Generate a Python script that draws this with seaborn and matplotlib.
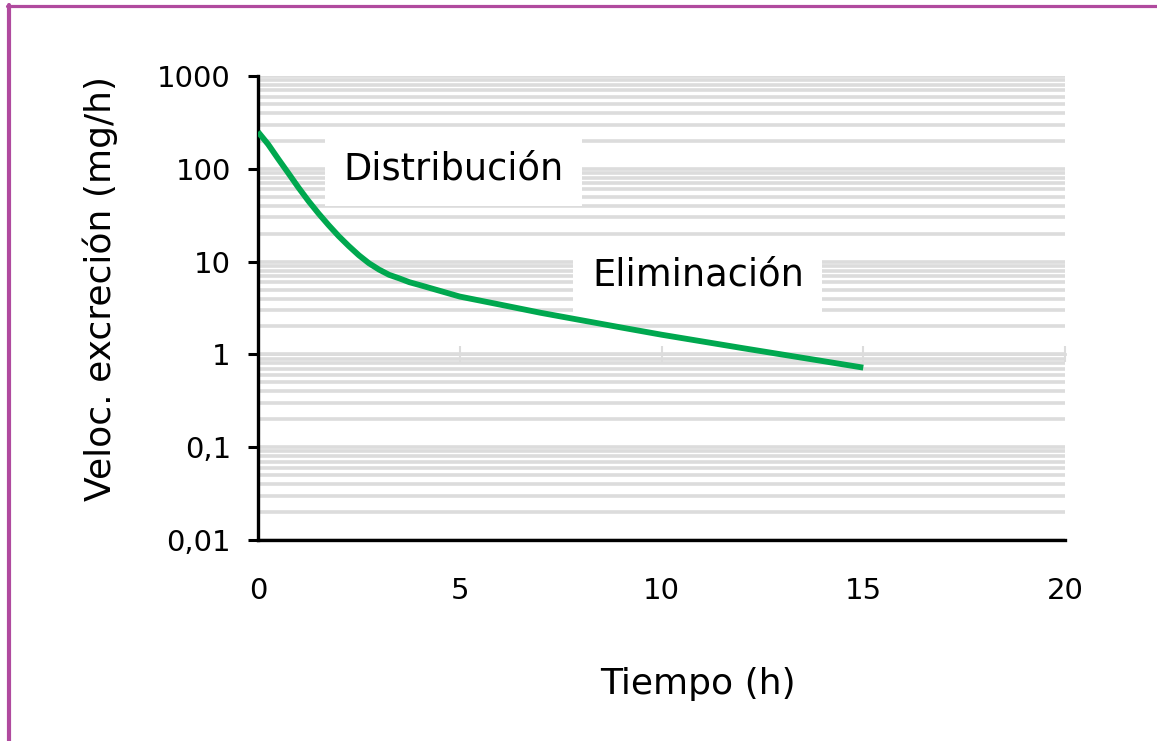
import matplotlib
matplotlib.use("Agg")
import matplotlib.pyplot as plt
from matplotlib.lines import Line2D
from matplotlib.ticker import FixedLocator, FixedFormatter, LogLocator, NullFormatter
import seaborn as sns
import pandas as pd

# ---- data ----
tiempo = [0, 0.25, 0.5, 0.75, 1, 1.25, 1.5, 1.75, 2, 2.25, 2.5, 2.75, 3, 3.25,
          3.5, 3.75, 4, 5, 6, 7, 8, 9, 10, 12, 15]
velocidad = [250, 184, 128, 90, 63, 45, 33, 24.7, 18.8, 14.7, 11.7, 9.6, 8.2, 7.2,
             6.6, 6.0, 5.6, 4.2, 3.44, 2.81, 2.34, 1.95, 1.63, 1.17, 0.72]
y_ticks = [0.01, 0.1, 1, 10, 100, 1000]
y_tick_labels = ["0,01", "0,1", "1", "10", "100", "1000"]
x_ticks = [0, 5, 10, 15, 20]
x_tick_labels = ["0", "5", "10", "15", "20"]
label_dist = "Distribución"
label_elim = "Eliminación"
x_label = "Tiempo (h)"
y_label = "Veloc. excreción (mg/h)"

df = pd.DataFrame({"t": tiempo, "v": velocidad})

sns.set_style("white")
plt.rcParams["font.family"] = ["DejaVu Sans"]
plt.rcParams["text.color"] = "black"
plt.rcParams["axes.labelcolor"] = "black"
plt.rcParams["xtick.color"] = "black"
plt.rcParams["ytick.color"] = "black"

fig = plt.figure(figsize=(11.57, 7.41), dpi=100)
ax = fig.add_axes([0.223, 0.2713, 0.6975, 0.6261])

grid_c = "#DCDCDC"
ax.set_yscale("log")
ax.set_xlim(0, 20)
ax.set_ylim(0.01, 1000)

# gridlines at major and minor log positions
ax.yaxis.set_major_locator(FixedLocator(y_ticks))
ax.yaxis.set_major_formatter(FixedFormatter(y_tick_labels))
ax.yaxis.set_minor_locator(LogLocator(base=10, subs=range(2, 10), numticks=20))
ax.yaxis.set_minor_formatter(NullFormatter())
ax.grid(True, which="both", axis="y", color=grid_c, linewidth=2.6, zorder=0)
ax.grid(False, axis="x")
ax.set_axisbelow(True)

sns.lineplot(data=df, x="t", y="v", ax=ax, color="#00A84F", linewidth=4.2, zorder=3)
for ln in ax.get_lines():
    ln.set_solid_joinstyle("round")
    ln.set_solid_capstyle("butt")

ax.xaxis.set_major_locator(FixedLocator(x_ticks))
ax.xaxis.set_major_formatter(FixedFormatter(x_tick_labels))
ax.tick_params(axis="x", which="both", length=0, pad=27, labelsize=21, labelcolor="black")
ax.tick_params(axis="y", which="major", direction="out", length=7.5, width=2.2,
               color="black", left=True, pad=12, labelsize=21, labelcolor="black")
ax.tick_params(axis="y", which="minor", length=0)

for s in ["top", "right"]:
    ax.spines[s].set_visible(False)
for s in ["left", "bottom"]:
    ax.spines[s].set_color("black")
    ax.spines[s].set_linewidth(2.4)

# faint secondary axis crossing at y = 1 (as in the source)
sec = ax.secondary_xaxis(0.4)
sec.spines["bottom"].set_color(grid_c)
sec.spines["bottom"].set_linewidth(2.0)
sec.xaxis.set_major_locator(FixedLocator(x_ticks[1:]))
sec.tick_params(axis="x", direction="inout", length=11, width=1.5, color=grid_c,
                labelbottom=False, labeltop=False)

ax.set_xlabel(x_label, fontsize=26, color="black")
ax.xaxis.set_label_coords(0.545, -0.31)
ax.xaxis.label.set_va("center")
ax.set_ylabel(y_label, fontsize=26, color="black")
ax.yaxis.set_label_coords(-0.196, 0.543)
ax.yaxis.label.set_va("center")

box = dict(boxstyle="square,pad=0.5", facecolor="white", edgecolor="none")
ax.text(4.85, 100, label_dist, fontsize=26.5, ha="center", va="center", color="black",
        bbox=box, zorder=4)
ax.text(10.9, 7.1, label_elim, fontsize=26.5, ha="center", va="center", color="black",
        bbox=box, zorder=4)

# purple slide frame (top and left edges)
purple = "#B04A9E"
fig.add_artist(Line2D([0.006, 1.0], [0.9915, 0.9915], transform=fig.transFigure,
                      color=purple, linewidth=2.3))
fig.add_artist(Line2D([0.0078, 0.0078], [0.0, 0.993], transform=fig.transFigure,
                      color=purple, linewidth=3.0))

fig.savefig("out.png", dpi=100, facecolor="white")
